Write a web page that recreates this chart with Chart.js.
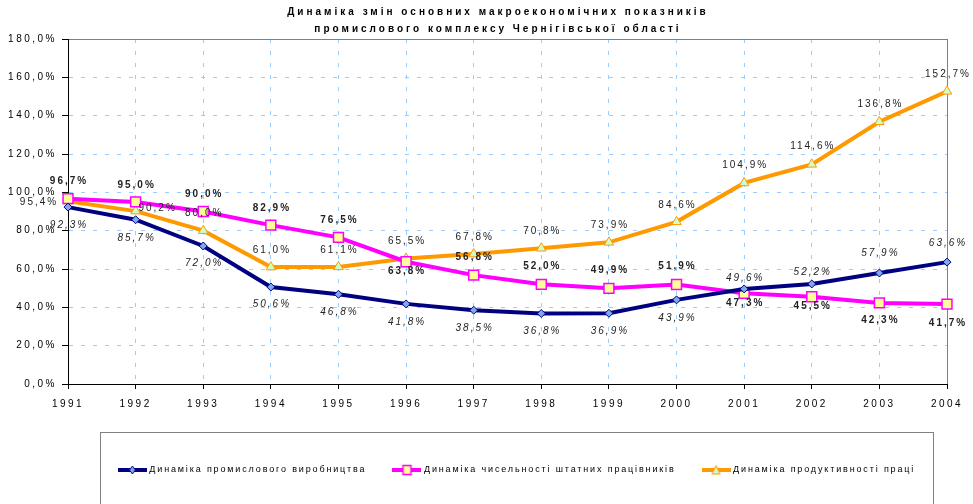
<!DOCTYPE html>
<html>
<head>
<meta charset="utf-8">
<script src="https://cdn.jsdelivr.net/npm/chart.js@4"></script>
<style>
  body { margin: 0; background: #fff; }
</style>
</head>
<body>
<canvas id="macroChart" width="973" height="504"></canvas>
<script>
const years = ['1991', '1992', '1993', '1994', '1995', '1996', '1997', '1998', '1999', '2000', '2001', '2002', '2003', '2004'];
const production = [92.3, 85.7, 72.0, 50.6, 46.8, 41.8, 38.5, 36.8, 36.9, 43.9, 49.6, 52.2, 57.9, 63.6];
const employees = [96.7, 95.0, 90.0, 82.9, 76.5, 63.8, 56.8, 52.0, 49.9, 51.9, 47.3, 45.5, 42.3, 41.7];
const productivity = [95.4, 90.2, 80.0, 61.0, 61.1, 65.5, 67.8, 70.8, 73.9, 84.6, 104.9, 114.6, 136.8, 152.7];
const seriesNames = ['Динаміка промислового виробництва', 'Динаміка чисельності штатних працівників', 'Динаміка продуктивності праці'];
const titleLines = ['Динаміка змін основних макроекономічних показників', 'промислового комплексу Чернігівської області'];

// label offsets [dx, dy] from each point
const productionLabelPos = [[0, 18], [0, 18], [0, 17], [0, 17], [0, 18], [0, 18], [0, 18], [0, 18], [0, 18], [0, 18], [0, -11], [0, -12], [0, -20], [0, -19]];
const employeesLabelPos = [[0, -17], [0, -17], [0, -17], [0, -17], [0, -17], [0, 10], [0, -18], [0, -18], [0, -18], [0, -18], [0, 10], [0, 9], [0, 17], [0, 19]];
const productivityLabelPos = [[-30, 1], [21, -3], [0, -17], [0, -17], [0, -17], [0, -17], [0, -17], [0, -17], [0, -17], [0, -17], [0, -18], [0, -18], [0, -18], [0, -17]];

function pct(v) {
    return v.toFixed(1).replace('.', ',') + '%';
}

function legendIcon(color, drawMarker) {
    const c = document.createElement('canvas');
    c.width = 29;
    c.height = 12;
    const g = c.getContext('2d');
    g.strokeStyle = color;
    g.lineWidth = 4;
    g.beginPath();
    g.moveTo(0, 6);
    g.lineTo(29, 6);
    g.stroke();
    drawMarker(g);
    return c;
}

const icons = [
    legendIcon('#000080', g => {
        g.fillStyle = '#7fa7ef'; g.strokeStyle = '#000080'; g.lineWidth = 1;
        g.beginPath(); g.moveTo(14.5, 2); g.lineTo(17.5, 6); g.lineTo(14.5, 10); g.lineTo(11.5, 6); g.closePath(); g.fill(); g.stroke();
    }),
    legendIcon('#ff00ff', g => {
        g.fillStyle = '#ffff99'; g.strokeStyle = '#ff00ff'; g.lineWidth = 1.5;
        g.fillRect(10.5, 1.5, 8, 9); g.strokeRect(10.5, 1.5, 8, 9);
    }),
    legendIcon('#ff9900', g => {
        g.fillStyle = '#ccffcc'; g.strokeStyle = '#ff9900'; g.lineWidth = 1;
        g.beginPath(); g.moveTo(14.5, 1.5); g.lineTo(18.5, 10); g.lineTo(10.5, 10); g.closePath(); g.fill(); g.stroke();
    })
];

const labelStyles = [
    { pos: productionLabelPos, font: 'italic 10px "Liberation Sans"' },
    { pos: employeesLabelPos, font: 'bold 10px "Liberation Sans"' },
    { pos: productivityLabelPos, font: '10px "Liberation Sans"' }
];

const LEGEND_SPACING = '1.85px';

// grid line look: edges of the plot are solid, the rest light-blue dashes
function gridColor(edge, frame) {
    if (edge === 'axis') return '#000';
    if (edge === 'frame') return '#808080';
    return '#99ccff';
}
const xEdge = ctx => ctx.type !== 'tick' ? 'axis' : ctx.index === 0 ? 'axis' : ctx.index === years.length - 1 ? 'frame' : 'grid';
const yEdge = ctx => ctx.type !== 'tick' ? 'axis' : ctx.tick.value === 0 ? 'axis' : ctx.tick.value === 180 ? 'frame' : 'grid';

const spacingPlugin = {
    id: 'spacing',
    beforeLayout(chart) {
        chart.ctx.letterSpacing = LEGEND_SPACING;
        chart.boxes.forEach(box => {
            if (box._wrapped) return;
            const draw = box.draw.bind(box);
            let sp = '2.5px';
            if (box === chart.legend) sp = LEGEND_SPACING;
            if (box === chart.titleBlock) sp = '3px';
            box.draw = area => {
                chart.ctx.letterSpacing = sp;
                draw(area);
                chart.ctx.letterSpacing = '0px';
            };
            box._wrapped = true;
        });
    },
    afterLayout(chart) {
        // shift title and legend to sit over the plot like the original
        const t = chart.titleBlock;
        t.left += 24.5;
        t.right += 24.5;
        const lg = chart.legend;
        lg.left += 44;
        lg.right += 44;
        lg.top -= 19.5;
        lg.bottom -= 19.5;
    },
    afterDatasetsDraw(chart) {
        const ctx = chart.ctx;
        ctx.save();
        ctx.letterSpacing = '2px';
        ctx.textAlign = 'center';
        ctx.textBaseline = 'middle';
        ctx.fillStyle = '#222';
        chart.data.datasets.forEach((ds, i) => {
            const meta = chart.getDatasetMeta(i);
            ctx.font = labelStyles[i].font;
            meta.data.forEach((pt, j) => {
                const [dx, dy] = labelStyles[i].pos[j];
                ctx.fillText(pct(ds.data[j]), pt.x + dx + 1, pt.y + dy);
            });
        });
        ctx.restore();
    },
    afterDraw(chart) {
        const ctx = chart.ctx;
        ctx.save();
        ctx.strokeStyle = '#808080';
        ctx.lineWidth = 1;
        ctx.strokeRect(100.5, 432.5, 833, 90);
        ctx.restore();
    }
};

new Chart(document.getElementById('macroChart'), {
    type: 'line',
    data: {
        labels: years,
        datasets: [
            {
                label: seriesNames[0],
                data: production,
                borderColor: '#000080',
                borderWidth: 4,
                pointStyle: 'rectRot',
                pointRadius: 4,
                pointBackgroundColor: '#7fa7ef',
                pointBorderColor: '#000080',
                pointBorderWidth: 1
            },
            {
                label: seriesNames[1],
                data: employees,
                borderColor: '#ff00ff',
                borderWidth: 4,
                pointStyle: 'rect',
                pointRadius: 7,
                pointBackgroundColor: '#ffff99',
                pointBorderColor: '#ff00ff',
                pointBorderWidth: 1.5
            },
            {
                label: seriesNames[2],
                data: productivity,
                borderColor: '#ff9900',
                borderWidth: 4,
                pointStyle: 'triangle',
                pointRadius: 5.5,
                pointBackgroundColor: '#ccffcc',
                pointBorderColor: '#ff9900',
                pointBorderWidth: 1
            }
        ]
    },
    options: {
        responsive: false,
        animation: false,
        layout: { padding: { left: 0, right: 26, top: 0, bottom: 0 } },
        plugins: {
            title: {
                display: true,
                text: titleLines,
                color: '#000',
                font: { family: '"Liberation Sans"', size: 10, weight: 'bold', lineHeight: 1.7 },
                padding: { top: 3.5, bottom: 1.5 }
            },
            legend: {
                position: 'bottom',
                labels: {
                    usePointStyle: true,
                    pointStyleWidth: 25,
                    padding: 28,
                    color: '#000',
                    font: { family: '"Liberation Sans"', size: 9 },
                    generateLabels: chart => chart.data.datasets.map((ds, i) => ({
                        text: ds.label,
                        pointStyle: icons[i],
                        fillStyle: ds.borderColor,
                        strokeStyle: ds.borderColor,
                        lineWidth: 0,
                        hidden: false,
                        datasetIndex: i
                    }))
                }
            },
            tooltip: { enabled: false }
        },
        scales: {
            x: {
                offset: false,
                grid: {
                    offset: false,
                    color: ctx => gridColor(xEdge(ctx)),
                    tickColor: '#000',
                    tickLength: 5
                },
                border: {
                    color: '#000',
                    width: 1,
                    dash: ctx => xEdge(ctx) === 'grid' ? [4, 8] : []
                },
                ticks: {
                    color: '#000',
                    padding: 9,
                    maxRotation: 0,
                    font: { family: '"Liberation Sans"', size: 10 }
                },
                afterFit: scale => { scale.height = 73; }
            },
            y: {
                min: 0,
                max: 180,
                grid: {
                    color: ctx => gridColor(yEdge(ctx)),
                    tickColor: '#000',
                    tickLength: 6
                },
                border: {
                    color: '#000',
                    width: 1,
                    dash: ctx => yEdge(ctx) === 'grid' ? [4, 8] : []
                },
                ticks: {
                    stepSize: 20,
                    color: '#000',
                    padding: 5,
                    font: { family: '"Liberation Sans"', size: 10 },
                    callback: v => pct(v)
                },
                afterFit: scale => { scale.width = 68; }
            }
        }
    },
    plugins: [spacingPlugin]
});
</script>
</body>
</html>
